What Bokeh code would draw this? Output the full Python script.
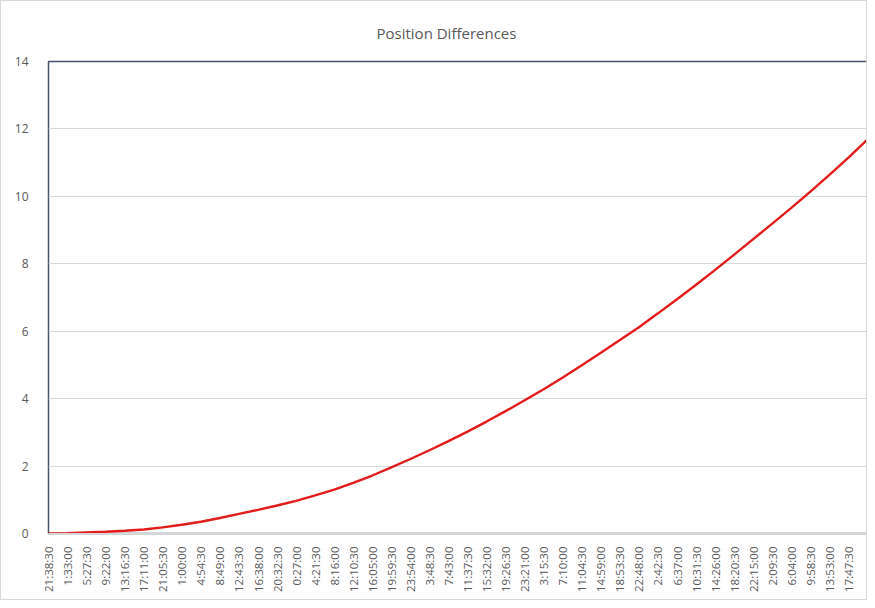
import math
from bokeh.plotting import figure
from bokeh.models import Range1d, FixedTicker, ColumnDataSource
from bokeh.embed import file_html
from bokeh.resources import INLINE

tick_labels = ["21:38:30", "1:33:00", "5:27:30", "9:22:00", "13:16:30", "17:11:00",
               "21:05:30", "1:00:00", "4:54:30", "8:49:00", "12:43:30", "16:38:00",
               "20:32:30", "0:27:00", "4:21:30", "8:16:00", "12:10:30", "16:05:00",
               "19:59:30", "23:54:00", "3:48:30", "7:43:00", "11:37:30", "15:32:00",
               "19:26:30", "23:21:00", "3:15:30", "7:10:00", "11:04:30", "14:59:00",
               "18:53:30", "22:48:00", "2:42:30", "6:37:00", "10:31:30", "14:26:00",
               "18:20:30", "22:15:00", "2:09:30", "6:04:00", "9:58:30", "13:53:00",
               "17:47:30"]

# position difference read at each labelled category (plus the final point)
differences = [0.00, 0.01, 0.03, 0.05, 0.08, 0.12, 0.18, 0.26, 0.35, 0.46,
               0.58, 0.70, 0.83, 0.97, 1.13, 1.30, 1.50, 1.72, 1.96, 2.21,
               2.47, 2.74, 3.02, 3.32, 3.63, 3.95, 4.28, 4.63, 4.99, 5.36,
               5.74, 6.12, 6.53, 6.95, 7.38, 7.82, 8.27, 8.73, 9.19, 9.66,
               10.14, 10.64, 11.15, 11.69]

y_ticks = [0, 2, 4, 6, 8, 10, 12, 14]

positions = list(range(len(differences)))
src = ColumnDataSource(dict(x=positions, y=differences))

p = figure(width=867, height=600, output_backend="svg", toolbar_location=None,
           x_range=Range1d(0, len(differences) - 1), y_range=Range1d(0, 14),
           min_border_left=47, min_border_right=1, min_border_top=60, min_border_bottom=68)

p.title.text = "Position Differences"
p.title.align = "left"
p.title.text_font = "Open Sans"
p.title.text_font_size = "15px"
p.title.text_font_style = "normal"
p.title.text_color = "#595959"
p.title.offset = 328
p.title.standoff = 38

p.line("x", "y", source=src, line_color="#e31b1b", line_width=2.4)

p.outline_line_color = "#44546a"
p.outline_line_width = 1.5
p.outline_line_alpha = 1.0
p.styles = {"border": "1px solid #d9d9d9"}

p.xgrid.grid_line_color = None
p.ygrid.grid_line_color = "#d9d9d9"
p.ygrid.grid_line_width = 1
p.ygrid.ticker = FixedTicker(ticks=y_ticks)

p.yaxis.ticker = FixedTicker(ticks=y_ticks)
p.yaxis.axis_line_color = None
p.yaxis.major_tick_line_color = None
p.yaxis.minor_tick_line_color = None
p.yaxis.major_label_text_font = "Open Sans"
p.yaxis.major_label_text_font_size = "12px"
p.yaxis.major_label_text_color = "#595959"
p.yaxis.major_label_standoff = 14

p.xaxis.ticker = FixedTicker(ticks=list(range(len(tick_labels))))
p.xaxis.major_label_overrides = {i: lab for i, lab in enumerate(tick_labels)}
p.xaxis.major_label_orientation = math.pi / 2
p.xaxis.axis_line_color = "#d9d9d9"
p.xaxis.major_tick_line_color = None
p.xaxis.minor_tick_line_color = None
p.xaxis.major_label_text_font = "Open Sans"
p.xaxis.major_label_text_font_size = "11.5px"
p.xaxis.major_label_text_color = "#595959"
p.xaxis.major_label_standoff = 7

p.background_fill_color = "white"
p.border_fill_color = "white"

open("out.html", "w").write(file_html(p, INLINE))
